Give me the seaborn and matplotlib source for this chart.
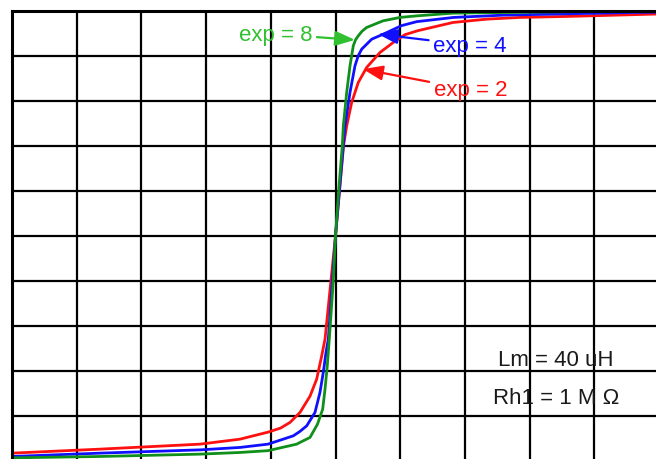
import matplotlib
matplotlib.use("Agg")
import matplotlib.pyplot as plt
import seaborn as sns
import pandas as pd

# ---- data (grid units, curve centred at 0,0) ----
red_x = [-5.0, -3.640, -2.094, -1.476, -1.043, -0.850, -0.703, -0.549, -0.394, -0.291, -0.213, -0.162,
         0.0, 0.124, 0.173, 0.250, 0.352, 0.482, 0.688, 0.893, 1.074, 1.275, 1.816, 2.337, 2.852,
         3.573, 4.910, 5.0]
red_y = [-4.832, -4.743, -4.632, -4.521, -4.365, -4.275, -4.149, -3.927, -3.565, -3.187, -2.668, -2.297,
         0.0, 2.001, 2.446, 2.966, 3.411, 3.745, 4.078, 4.301, 4.474, 4.563, 4.745, 4.819, 4.857,
         4.879, 4.930, 4.932]

blue_x = [-5.0, -3.640, -2.094, -1.476, -1.043, -0.652, -0.549, -0.445, -0.317, -0.240, -0.189,
          -0.147, -0.111, 0.0, 0.147, 0.224, 0.301, 0.350, 0.405, 0.560, 0.739, 1.020, 1.255, 1.824,
          2.597, 4.598, 5.0]
blue_y = [-4.906, -4.832, -4.759, -4.705, -4.632, -4.447, -4.348, -4.225, -3.927, -3.482, -3.038,
          -2.593, -2.297, 0.0, 2.446, 3.189, 3.780, 4.000, 4.152, 4.374, 4.485, 4.674, 4.763, 4.857,
          4.908, 4.968, 4.974]

green_x = [-5.0, -3.640, -2.094, -1.476, -1.043, -0.600, -0.549, -0.394, -0.278, -0.198, -0.162,
           -0.127, -0.096, -0.034, 0.0, 0.049, 0.105, 0.121, 0.173, 0.224, 0.275, 0.310, 0.352, 0.410,
           0.482, 0.734, 0.997, 1.255, 1.816, 3.563, 5.0]
green_y = [-4.937, -4.906, -4.854, -4.817, -4.777, -4.632, -4.594, -4.483, -4.187, -3.854, -3.409,
           -2.891, -2.297, -1.001, 0.0, 1.001, 2.001, 2.446, 3.189, 3.780, 4.225, 4.360, 4.447, 4.550,
           4.634, 4.781, 4.857, 4.892, 4.952, 4.985, 4.997]

labels = ["exp = 2", "exp = 4", "exp = 8"]
notes = ["Lm = 40 uH", "Rh1 = 1 M \u03a9"]

# ---- figure ----
sns.set_style("white")
plt.rcParams["font.family"] = ["Liberation Sans", "DejaVu Sans"]

W, H = 656, 460
fig = plt.figure(figsize=(W / 100, H / 100), dpi=100)
left_px, top_px, right_px, bottom_px = 12, 12, 659, 461.7
ax = fig.add_axes([left_px / W, (H - bottom_px) / H,
                   (right_px - left_px) / W, (bottom_px - top_px) / H])
ax.set_xlim(-5, 5)
ax.set_ylim(-5, 5)
ax.set_xticks(range(-5, 6))
ax.set_yticks(range(-5, 6))
ax.tick_params(length=0, labelbottom=False, labelleft=False)
ax.grid(True, color="black", lw=1.6)
ax.set_axisbelow(True)
for s in ["left", "top"]:
    ax.spines[s].set_color("black")
    ax.spines[s].set_linewidth(2.2)
for s in ["right", "bottom"]:
    ax.spines[s].set_visible(False)

red_c, blue_c, green_c = "#ff1010", "#1010ff", "#10901a"
green_txt = "#30c030"

df_r = pd.DataFrame({"x": red_x, "y": red_y})
df_b = pd.DataFrame({"x": blue_x, "y": blue_y})
df_g = pd.DataFrame({"x": green_x, "y": green_y})
sns.lineplot(data=df_r, x="x", y="y", color=red_c, lw=2, ax=ax)
sns.lineplot(data=df_b, x="x", y="y", color=blue_c, lw=2, ax=ax)
sns.lineplot(data=df_g, x="x", y="y", color=green_c, lw=2, ax=ax)
ax.set_xlabel("")
ax.set_ylabel("")

arrow = lambda c: dict(arrowstyle="-|>,head_length=0.8,head_width=0.3", color=c, lw=1.6,
                       mutation_scale=15, shrinkA=1, shrinkB=0)
ax.annotate(labels[2], xy=(0.301, 4.358), xytext=(-0.927, 4.485), color=green_txt,
            fontsize=16, ha="center", va="center", arrowprops=arrow(green_txt))
ax.annotate(labels[1], xy=(0.657, 4.485), xytext=(2.079, 4.241), color=blue_c,
            fontsize=16, ha="center", va="center", arrowprops=arrow(blue_c))
ax.annotate(labels[0], xy=(0.425, 3.707), xytext=(2.087, 3.247), color=red_c,
            fontsize=16, ha="center", va="center", arrowprops=arrow(red_c))

ax.text(2.512, -2.757, notes[0], fontsize=16, color="#1a1a1a", ha="left", va="center")
ax.text(2.430, -3.594, notes[1], fontsize=16, color="#1a1a1a", ha="left", va="center")

fig.savefig("out.png", dpi=100)
